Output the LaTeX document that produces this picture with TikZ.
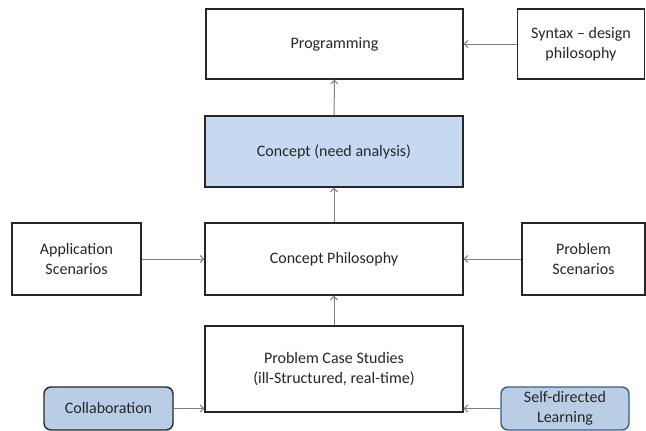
\documentclass[tikz,border=0pt]{standalone}
\usepackage{fontspec}
\setmainfont{Carlito}
\usetikzlibrary{arrows.meta}
\definecolor{needfill}{HTML}{C6D9F1}
\definecolor{softfill}{HTML}{B9CDE5}
\definecolor{softborder}{HTML}{385D8A}
\definecolor{arrowgray}{HTML}{7F7F7F}
\tikzset{
  box/.style={draw=black!85, line width=1.4pt, fill=white, align=center,
    inner sep=0pt, font=\fontsize{16}{20}\selectfont, text=black!85},
  softbox/.style={box, rounded corners=7pt, fill=softfill},
  conn/.style={draw=arrowgray, line width=1pt, -{Straight Barb[length=3.5pt,width=7pt]}},
}
\begin{document}
\begin{tikzpicture}[x=1pt,y=-1pt]
\useasboundingbox (0,0) rectangle (646,431);
\node[box, minimum width=257pt, minimum height=70pt] (prog) at (334.5,44) {Programming};
\node[box, minimum width=127pt, minimum height=70pt] (syn) at (581,44) {Syntax -- design\\philosophy};
\node[box, fill=needfill, minimum width=258pt, minimum height=71pt] (need) at (334,151.5) {Concept (need analysis)};
\node[box, minimum width=258pt, minimum height=72pt] (cp) at (334,259) {Concept Philosophy};
\node[box, minimum width=129pt, minimum height=72pt] (app) at (76.5,259) {Application\\Scenarios};
\node[box, minimum width=123pt, minimum height=72pt] (ps) at (583.5,259) {Problem\\Scenarios};
\node[box, minimum width=258pt, minimum height=86pt] (pcs) at (334,369) {Problem Case Studies\\(ill-Structured, real-time)};
\node[softbox, minimum width=129pt, minimum height=43pt] (col) at (108.5,408.5) {Collaboration};
\node[softbox, draw=softborder, minimum width=128pt, minimum height=43pt] (self) at (565,408.5) {Self-directed\\Learning};
\draw[conn] (syn.west) -- (prog.east);
\draw[conn] (need.north) -- (prog.south);
\draw[conn] (cp.north) -- (need.south);
\draw[conn] (pcs.north) -- (cp.south);
\draw[conn] (app.east) -- (cp.west);
\draw[conn] (ps.west) -- (cp.east);
\draw[conn] (col.east) -- (col.east -| pcs.west);
\draw[conn] (self.west) -- (self.west -| pcs.east);
\end{tikzpicture}
\end{document}
